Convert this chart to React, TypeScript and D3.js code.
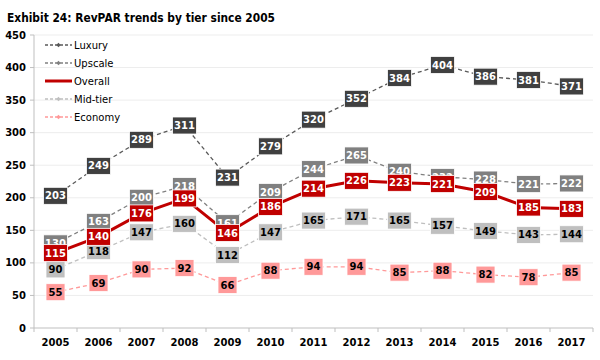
import React from "react";
import * as d3 from "d3";

const years = ["2005","2006","2007","2008","2009","2010","2011","2012","2013","2014","2015","2016","2017"];
const luxury = [203,249,289,311,231,279,320,352,384,404,386,381,371];
const upscale = [130,163,200,218,161,209,244,265,240,232,228,221,222];
const overall = [115,140,176,199,146,186,214,226,223,221,209,185,183];
const midTier = [90,118,147,160,112,147,165,171,165,157,149,143,144];
const economy = [55,69,90,92,66,88,94,94,85,88,82,78,85];
const yTicks = [0,50,100,150,200,250,300,350,400,450];

const series = [
  { name: "Luxury", values: luxury, line: "#595959", box: "#404040", text: "#fff", width: 1.3, dash: "4,3" },
  { name: "Upscale", values: upscale, line: "#808080", box: "#808080", text: "#fff", width: 1.3, dash: "4,3" },
  { name: "Overall", values: overall, line: "#C00000", box: "#C00000", text: "#fff", width: 3, dash: null },
  { name: "Mid-tier", values: midTier, line: "#BFBFBF", box: "#BFBFBF", text: "#000", width: 1.3, dash: "4,3" },
  { name: "Economy", values: economy, line: "#FF9999", box: "#FF9999", text: "#000", width: 1.3, dash: "4,3" },
];
const labelOrder = [0, 1, 3, 4, 2];

export default function App() {
  const W = 600, H = 360;
  const left = 34, right = 593, top = 35, bottom = 328;
  const x = d3.scaleBand().domain(years).range([left, right]);
  const y = d3.scaleLinear().domain([0, 450]).range([bottom, top]);
  const cx = (i: number) => (x(years[i]) as number) + x.bandwidth() / 2;
  const line = d3.line<number>().x((_, i) => cx(i)).y((v) => y(v));
  const font = "Tahoma, 'DejaVu Sans', Verdana, sans-serif";

  return (
    <svg width={W} height={H} style={{ position: "absolute", left: 0, top: 0, fontFamily: font }}>
      <rect x={0} y={0} width={W} height={H} fill="#fff" />
      <text x={7} y={22} fontSize={12.5} fontWeight="bold" fill="#000" textLength={268} lengthAdjust="spacingAndGlyphs">Exhibit 24: RevPAR trends by tier since 2005</text>
      {yTicks.map((t) => (
        <g key={t}>
          {t > 0 && <line x1={left} x2={right} y1={y(t)} y2={y(t)} stroke="#EDEDED" strokeWidth={1} />}
          <line x1={left - 4} x2={left} y1={y(t)} y2={y(t)} stroke="#BFBFBF" />
          <text x={left - 8} y={y(t)} dy="0.35em" textAnchor="end" fontSize={10} fontWeight="bold" fill="#000">{t}</text>
        </g>
      ))}
      <line x1={left} x2={left} y1={top} y2={bottom} stroke="#BFBFBF" />
      <line x1={left} x2={right} y1={bottom} y2={bottom} stroke="#BFBFBF" />
      {years.map((yr, i) => (
        <g key={yr}>
          <line x1={(x(yr) as number)} x2={(x(yr) as number)} y1={bottom} y2={bottom + 4} stroke="#BFBFBF" />
          <text x={cx(i)} y={bottom + 18} textAnchor="middle" fontSize={10} fontWeight="bold" fill="#000">{yr}</text>
        </g>
      ))}
      <line x1={right} x2={right} y1={bottom} y2={bottom + 4} stroke="#BFBFBF" />
      {series.map((s) => (
        <path key={s.name} d={line(s.values) as string} fill="none" stroke={s.line} strokeWidth={s.width} strokeDasharray={s.dash ?? undefined} />
      ))}
      {labelOrder.map((k) => {
        const s = series[k];
        return (
          <g key={s.name}>
            {s.values.map((v, i) => {
              const w = String(v).length === 3 ? 24 : 19;
              return (
                <g key={i}>
                  <rect x={cx(i) - w / 2} y={y(v) - 8.5} width={w} height={17} fill={s.box} stroke="#fff" strokeWidth={0.8} />
                  <text x={cx(i)} y={y(v)} dy="0.36em" textAnchor="middle" fontSize={10} fontWeight="bold" fill={s.text}>{v}</text>
                </g>
              );
            })}
          </g>
        );
      })}
      {series.map((s, i) => {
        const ly = 45 + i * 18;
        return (
          <g key={s.name}>
            <line x1={45} x2={72} y1={ly} y2={ly} stroke={s.line} strokeWidth={s.dash ? 1.3 : 3} strokeDasharray={s.dash ? "3,2" : undefined} />
            {s.dash && <path d={`M${58.5},${ly - 2.2}L${60.7},${ly}L${58.5},${ly + 2.2}L${56.3},${ly}Z`} fill={s.line} />}
            <text x={74} y={ly} dy="0.35em" fontSize={10} fill="#000">{s.name}</text>
          </g>
        );
      })}
    </svg>
  );
}
